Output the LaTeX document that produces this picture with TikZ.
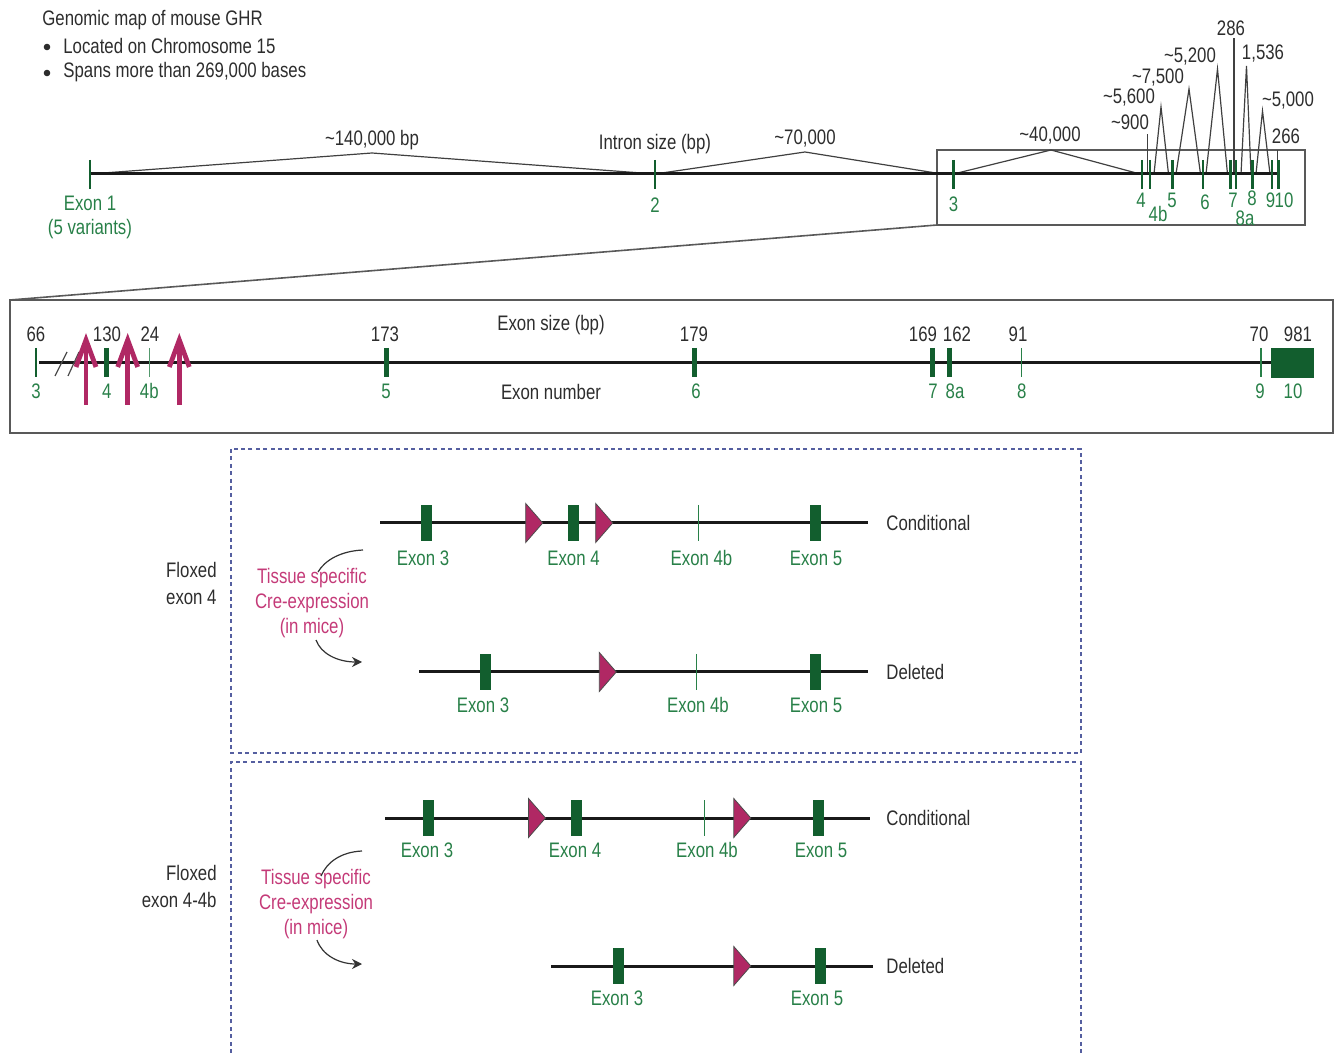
\documentclass[tikz,border=0pt]{standalone}
\usepackage{fontspec}
\setmainfont[FakeStretch=0.8]{Liberation Sans}
\usetikzlibrary{arrows.meta,calc}
\definecolor{exg}{RGB}{40,128,72}
\definecolor{exd}{RGB}{18,94,46}
\definecolor{mag}{RGB}{176,40,100}
\definecolor{magt}{RGB}{196,58,120}
\definecolor{txt}{RGB}{45,45,45}
\definecolor{dashc}{RGB}{85,95,160}
\newcommand{\exonrect}[2]{\fill[exd] (#1-5.3,#2-18) rectangle (#1+5.3,#2+18);}
\newcommand{\loxsite}[2]{\filldraw[loxtri] (#1,#2-19.5) -- (#1+17,#2) -- (#1,#2+19.5) -- cycle;}
\newcommand{\thinexon}[2]{\draw[thinex] (#1,#2-18) -- (#1,#2+18);}
\begin{document}
\begin{tikzpicture}[x=0.5pt,y=-0.5pt,
  font=\fontsize{10.5}{12.6}\selectfont,
  lbl/.style={text=txt, inner sep=0pt},
  glbl/.style={text=exg, inner sep=0pt},
  mlbl/.style={text=magt, inner sep=0pt, align=center, font=\fontsize{10.5}{12.5}\selectfont},
  mainline/.style={line width=1.5pt, draw=black!90},
  lowline/.style={line width=1.5pt, draw=black!90},
  intron/.style={line width=0.6pt, draw=black!75},
  exontick/.style={line width=1.4pt, draw=exd},
  fatex/.style={line width=2.5pt, draw=exd},
  thinex/.style={line width=0.7pt, draw=exg},
  loxtri/.style={fill=mag, draw=black!70, line width=0.4pt},
  dbox/.style={draw=dashc, line width=1pt, dash pattern=on 2pt off 1.7pt},
  frame/.style={draw=black!65, line width=0.8pt},
  crearc/.style={draw=black!80, line width=0.6pt},
  crearrow/.style={line width=2.4pt, draw=mag},
  bul/.style={fill=txt, draw=none, circle, inner sep=0pt, minimum size=3.3pt}
]
\useasboundingbox (0,0) rectangle (1340,1053);

% ---------------- header ----------------
\node[lbl, anchor=west] (title) at (42,20) {Genomic map of mouse GHR};
\node[bul] (b1) at (47,47) {};
\node[lbl, anchor=west] (l1) at (63,46) {Located on Chromosome 15};
\node[bul] (b2) at (47,73) {};
\node[lbl, anchor=west] (l2) at (63,72) {Spans more than 269,000 bases};

% ---------------- top gene map ----------------
\coordinate (e1) at (90,174);
\coordinate (e2) at (655,174);
\coordinate (e3) at (953.5,174);
\coordinate (e4) at (1142,174);
\coordinate (e4b) at (1150,174);
\coordinate (e5) at (1172.5,174);
\coordinate (e6) at (1203,174);
\coordinate (e7) at (1230.5,174);
\coordinate (e8a) at (1236,174);
\coordinate (e8) at (1252.5,174);
\coordinate (e9) at (1272,174);
\coordinate (e10) at (1278.5,174);

\draw[frame] (937,150) rectangle (1305,225);
\coordinate (zA) at (937,225);
\coordinate (zB) at (10,300);
\draw[frame] (zA) -- (zB);

% introns
\draw[intron] (e1) -- (372,153) -- (e2);
\draw[intron] (e2) -- (805,152) -- (942,174);
\draw[intron] (e3) -- (1051,150) -- (1140,174);
\draw[intron] (1147.5,174) -- (1147.5,134);
\draw[intron] (1154,174) -- (1161,107) -- (1168.5,174);
\draw[intron] (1176,174) -- (1189,89) -- (1200.5,174);
\draw[intron] (1206,174) -- (1217.5,69) -- (1227.5,174);
\draw[intron] (1234,174) -- (1234,38);
\draw[intron] (1241,174) -- (1246.5,66) -- (1251,174);
\draw[intron] (1256,174) -- (1262.5,111) -- (1270,174);
\draw[intron] (1277.5,174) -- (1277.5,150);

\draw[mainline] (e1) -- (e10);
\foreach \c in {e1,e2,e3,e4,e4b,e5,e6,e7,e8a,e8,e9,e10}
  \draw[exontick] ($(\c)+(0,-14)$) -- ($(\c)+(0,15)$);

% intron labels
\node[lbl] (i1) at (372,140) {\textasciitilde140,000 bp};
\node[lbl] (isz) at (655,144) {Intron size (bp)};
\node[lbl] (i2) at (805,139) {\textasciitilde70,000};
\node[lbl] (i3) at (1050,136) {\textasciitilde40,000};
\node[lbl] (i4) at (1130,122) {\textasciitilde900};
\node[lbl] (i5) at (1129,98) {\textasciitilde5,600};
\node[lbl] (i6) at (1158,78) {\textasciitilde7,500};
\node[lbl] (i7) at (1190,57) {\textasciitilde5,200};
\node[lbl] (i8) at (1231,28) {286};
\node[lbl] (i9) at (1263,54) {1,536};
\node[lbl] (i10) at (1288,101) {\textasciitilde5,000};
\node[lbl] (i11) at (1286,136) {266};

% exon labels
\node[glbl] (x1) at (90,203) {Exon 1};
\node[glbl] (x1v) at (90,229) {(5 variants)};
\node[glbl] (x2) at (655,205) {2};
\node[glbl] (x3) at (953.5,204) {3};
\node[glbl] (x4) at (1141,200) {4};
\node[glbl] (x4b) at (1158,214) {4b};
\node[glbl] (x5) at (1172,200) {5};
\node[glbl] (x6) at (1205,202) {6};
\node[glbl] (x7) at (1233,200) {7};
\node[glbl] (x8) at (1252,198) {8};
\node[glbl] (x8a) at (1245,218.5) {8a};
\node[glbl] (x9) at (1270.5,200) {9};
\node[glbl] (x10) at (1284,200) {10};

% ---------------- middle detail ----------------
\draw[frame] (zB) rectangle (1333,433);
\draw[mainline] (39,363) -- (1271,363);
\draw[line width=0.6pt, draw=black!70] (55,376) -- (67,352);
\draw[line width=0.6pt, draw=black!70] (68,376) -- (79,352);
\draw[line width=1.2pt, draw=exd] (35.7,348) -- (35.7,377);
\draw[fatex] (106.7,348) -- (106.7,377);
\draw[line width=0.45pt, draw=exg!80] (149.3,348) -- (149.3,377);
\draw[fatex] (386,348) -- (386,377);
\draw[fatex] (694,348) -- (694,377);
\draw[fatex] (932.3,348) -- (932.3,377);
\draw[fatex] (949,348) -- (949,377);
\draw[thinex] (1021.7,348) -- (1021.7,377);
\draw[thinex] (1261,348) -- (1261,377);
\fill[exd] (1271,348.5) rectangle (1313.5,378);

% magenta arrows
\foreach \ax in {86,127.7,179.3}{
  \draw[crearrow] (\ax,405) -- (\ax,342);
  \draw[crearrow, line join=miter] (\ax-10,367) -- (\ax,340) -- (\ax+10,367);
}

\node[lbl] (s3) at (36,334) {66};
\node[lbl] (s4) at (107,334) {130};
\node[lbl] (s4b) at (150,334) {24};
\node[lbl] (s5) at (385,334) {173};
\node[lbl] (sh) at (551,325) {Exon size (bp)};
\node[lbl] (s6) at (694,334) {179};
\node[lbl] (s7) at (923,334) {169};
\node[lbl] (s8a) at (957,334) {162};
\node[lbl] (s8) at (1018,334) {91};
\node[lbl] (s9) at (1259,334) {70};
\node[lbl] (s10) at (1298,334) {981};

\node[glbl] (n3) at (36,391) {3};
\node[glbl] (n4) at (106.7,391) {4};
\node[glbl] (n4b) at (149.3,391) {4b};
\node[glbl] (n5) at (386,391) {5};
\node[lbl] (nh) at (551,392) {Exon number};
\node[glbl] (n6) at (696,391) {6};
\node[glbl] (n7) at (933,391) {7};
\node[glbl] (n8a) at (955,391) {8a};
\node[glbl] (n8) at (1021.7,391) {8};
\node[glbl] (n9) at (1260,391) {9};
\node[glbl] (n10) at (1293,391) {10};

% ---------------- dashed panels ----------------
\draw[dbox] (231,449) rectangle (1081,753);
\draw[dbox] (231,1053) -- (231,762) -- (1081,762) -- (1081,1053);

% panel 1: floxed exon 4
\draw[lowline] (380,523) -- (868,523);
\exonrect{426.3}{523}
\loxsite{525.7}{523}
\exonrect{573.7}{523}
\loxsite{595.7}{523}
\thinexon{698.3}{523}
\exonrect{815.5}{523}
\node[glbl] (c1a) at (423,558) {Exon 3};
\node[glbl] (c1b) at (573.5,558) {Exon 4};
\node[glbl] (c1c) at (701.5,558) {Exon 4b};
\node[glbl] (c1d) at (816,558) {Exon 5};
\node[lbl, anchor=west] (cond1) at (886,523) {Conditional};

\draw[lowline] (419,672) -- (868,672);
\exonrect{485.3}{672}
\loxsite{599.3}{672}
\thinexon{696.7}{672}
\exonrect{815.5}{672}
\node[glbl] (d1a) at (483,705) {Exon 3};
\node[glbl] (d1c) at (698,705) {Exon 4b};
\node[glbl] (d1d) at (816,705) {Exon 5};
\node[lbl, anchor=west] (del1) at (886,672) {Deleted};

\node[lbl, anchor=east, align=right, font=\fontsize{10.5}{13.5}\selectfont] (fl1) at (217,583) {Floxed\\exon 4};
\node[mlbl] (cre1) at (312,603) {Tissue specific\\Cre-expression\\(in mice)};
\coordinate (a1s) at (363,550);
\coordinate (a1e) at (318,572);
\coordinate (a2s) at (316,640);
\coordinate (a2e) at (362,662);
\draw[crearc] (a1s) .. controls (341,551) and (325,560) .. (a1e);
\draw[crearc, -{Stealth[length=5pt,width=5pt]}] (a2s) .. controls (321,654) and (338,662) .. (a2e);

% panel 2: floxed exon 4-4b
\draw[lowline] (385,818) -- (870,818);
\exonrect{428.7}{818}
\loxsite{528.5}{818}
\exonrect{576.3}{818}
\thinexon{704.6}{818}
\loxsite{733.8}{818}
\exonrect{818.5}{818}
\node[glbl] (c2a) at (427,850) {Exon 3};
\node[glbl] (c2b) at (575,850) {Exon 4};
\node[glbl] (c2c) at (707,850) {Exon 4b};
\node[glbl] (c2d) at (821,850) {Exon 5};
\node[lbl, anchor=west] (cond2) at (886,818) {Conditional};

\draw[lowline] (551,966) -- (873,966);
\exonrect{618.5}{966}
\loxsite{733.8}{966}
\exonrect{820.5}{966}
\node[glbl] (d2a) at (617,998) {Exon 3};
\node[glbl] (d2d) at (817,998) {Exon 5};
\node[lbl, anchor=west] (del2) at (886,966) {Deleted};

\node[lbl, anchor=east, align=right, font=\fontsize{10.5}{13.5}\selectfont] (fl2) at (217,886) {Floxed\\exon 4-4b};
\node[mlbl] (cre2) at (316,904) {Tissue specific\\Cre-expression\\(in mice)};
\coordinate (b1s) at (362,851);
\coordinate (b1e) at (321,876);
\coordinate (b2s) at (317,940);
\coordinate (b2e) at (362,964);
\draw[crearc] (b1s) .. controls (341,852) and (327,862) .. (b1e);
\draw[crearc, -{Stealth[length=5pt,width=5pt]}] (b2s) .. controls (322,955) and (339,964) .. (b2e);
\end{tikzpicture}
\end{document}
